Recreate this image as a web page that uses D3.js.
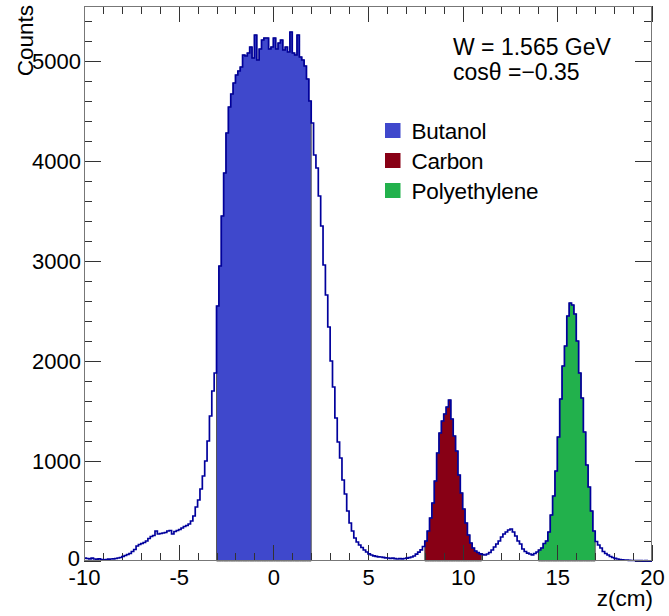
<!DOCTYPE html>
<html>
<head>
<meta charset="utf-8">
<script src="https://cdn.jsdelivr.net/npm/d3@7"></script>
<style>
  html, body { margin: 0; padding: 0; background: #ffffff; }
  svg { display: block; }
  text { font-family: "Liberation Sans", Arial, Helvetica, sans-serif; fill: #000; }
</style>
</head>
<body>
<svg id="chart" width="669" height="616"></svg>
<script>
// ---------------- data ----------------
const zMin = -10;
const zMax = 20;
const binWidth = 0.125;               // 240 bins
const counts = [
  28, 25, 22, 28, 20, 18, 22, 14,
  12, 15, 18, 20, 22, 25, 30, 35,
  45, 55, 65, 75, 95, 115, 150, 165,
  175, 185, 200, 225, 245, 255, 300, 270,
  275, 280, 285, 300, 305, 270, 295, 305,
  315, 330, 345, 355, 370, 400, 450, 540,
  610, 720, 850, 1000, 1200, 1450, 1700, 1880,
  2550, 2950, 3450, 3880, 4280, 4540, 4670, 4780,
  4860, 4900, 4940, 5060, 5050, 5080, 5140, 5030,
  5260, 5010, 5120, 5210, 5230, 5230, 5120, 5140,
  5230, 5120, 5180, 5210, 5110, 5140, 5090, 5290,
  5080, 5060, 5260, 5040, 5010, 4950, 4820, 4600,
  4380, 4060, 3930, 3650, 3350, 2960, 2660, 2340,
  2000, 1740, 1430, 1190, 1030, 810, 670, 500,
  380, 300, 230, 190, 160, 135, 110, 90,
  72, 60, 52, 46, 42, 40, 36, 32,
  30, 27, 28, 23, 20, 24, 22, 25,
  28, 34, 40, 50, 68, 88, 112, 145,
  200, 300, 430, 580, 800, 1080, 1280, 1400,
  1470, 1540, 1610, 1420, 1250, 1100, 860, 680,
  520, 380, 260, 180, 130, 100, 85, 72,
  65, 60, 70, 85, 110, 140, 170, 200,
  240, 270, 290, 310, 320, 290, 250, 200,
  170, 120, 95, 78, 70, 62, 75, 90,
  110, 130, 175, 200, 290, 460, 650, 900,
  1240, 1620, 1950, 2150, 2450, 2580, 2560, 2470,
  2200, 1880, 1630, 1290, 960, 740, 500, 300,
  195, 160, 130, 95, 75, 60, 45, 35,
  27, 20, 15, 12, 10, 8, 6, 5,
  5, 4, 3, 3, 2, 3, 2, 2
];
const regionNames  = ["Butanol", "Carbon", "Polyethylene"];
const regionStart  = [-3, 8, 14];
const regionEnd    = [2, 11, 17];
const regionColors = ["#3F48CC", "#880015", "#22B14C"];
const xMajorTicks = [-10, -5, 0, 5, 10, 15, 20];
const xTickLabels = ["-10", "-5", "0", "5", "10", "15", "20"];
const yMajorTicks = [0, 1000, 2000, 3000, 4000, 5000];
const yTickLabels = ["0", "1000", "2000", "3000", "4000", "5000"];
const yMax = 5550;
const xTitle = "z(cm)";
const yTitle = "Counts";
const infoLines = ["W = 1.565 GeV", "cosθ =−0.35"];

// ---------------- drawing ----------------
const svg = d3.select("#chart");
const W = 669, H = 616;
const pL = 84, pR = 652, pT = 6, pB = 561;

svg.append("rect").attr("width", W).attr("height", H).attr("fill", "#fff");

const x = d3.scaleLinear().domain([zMin, zMax]).range([pL, pR]);
const y = d3.scaleLinear().domain([0, yMax]).range([pB, pT]);

const bins = counts.map((c, i) => ({ x0: zMin + i * binWidth, x1: zMin + (i + 1) * binWidth, v: c }));

// filled regions
const area = d3.area()
  .curve(d3.curveStepAfter)
  .x(d => x(d[0]))
  .y0(y(0))
  .y1(d => y(d[1]));

regionNames.forEach((name, r) => {
  const sel = bins.filter(b => b.x0 >= regionStart[r] - 1e-9 && b.x1 <= regionEnd[r] + 1e-9);
  const pts = sel.map(b => [b.x0, b.v]);
  pts.push([sel[sel.length - 1].x1, sel[sel.length - 1].v]);
  svg.append("path")
    .attr("d", area(pts))
    .attr("fill", regionColors[r])
    .attr("stroke", "#555")
    .attr("stroke-width", 1);
});

// axes ticks (drawn with d3 axes)
const xMinorTicks = d3.range(zMin, zMax + 1, 1);
const yMinorTicks = d3.range(0, yMax, 200);

function styleAxis(g) {
  g.select(".domain").remove();
  g.selectAll(".tick line").attr("stroke", "#333").attr("stroke-width", 1).attr("shape-rendering", "crispEdges");
}

// bottom
svg.append("g").attr("transform", `translate(0,${pB})`)
  .call(d3.axisBottom(x).tickValues(xMinorTicks).tickSize(-8).tickFormat(""))
  .call(styleAxis);
const bx = svg.append("g").attr("transform", `translate(0,${pB})`)
  .call(d3.axisBottom(x).tickValues(xMajorTicks).tickSize(-16).tickPadding(8)
        .tickFormat((d, i) => xTickLabels[i]))
  .call(styleAxis);
bx.selectAll("text")
  .attr("font-size", 22)
  .attr("font-family", "Liberation Sans, Arial, sans-serif")
  .attr("fill", "#000")
  .attr("y", 24).attr("dy", null);

// top
svg.append("g").attr("transform", `translate(0,${pT})`)
  .call(d3.axisTop(x).tickValues(xMinorTicks).tickSize(-8).tickFormat(""))
  .call(styleAxis);
svg.append("g").attr("transform", `translate(0,${pT})`)
  .call(d3.axisTop(x).tickValues(xMajorTicks).tickSize(-16).tickFormat(""))
  .call(styleAxis);

// left
svg.append("g").attr("transform", `translate(${pL},0)`)
  .call(d3.axisLeft(y).tickValues(yMinorTicks).tickSize(-8).tickFormat(""))
  .call(styleAxis);
const ly = svg.append("g").attr("transform", `translate(${pL},0)`)
  .call(d3.axisLeft(y).tickValues(yMajorTicks).tickSize(-17).tickPadding(4)
        .tickFormat((d, i) => yTickLabels[i]))
  .call(styleAxis);
ly.selectAll("text")
  .attr("font-size", 22)
  .attr("font-family", "Liberation Sans, Arial, sans-serif")
  .attr("fill", "#000")
  .attr("x", (d, i) => i === 0 ? -4 : -3)
  .attr("dy", (d, i) => i === 0 ? "0.2em" : "0.36em");

// right
svg.append("g").attr("transform", `translate(${pR},0)`)
  .call(d3.axisRight(y).tickValues(yMinorTicks).tickSize(-8).tickFormat(""))
  .call(styleAxis);
svg.append("g").attr("transform", `translate(${pR},0)`)
  .call(d3.axisRight(y).tickValues(yMajorTicks).tickSize(-17).tickFormat(""))
  .call(styleAxis);

// histogram outline
const line = d3.line()
  .curve(d3.curveStepAfter)
  .x(d => x(d[0]))
  .y(d => y(d[1]));
const linePts = bins.map(b => [b.x0, b.v]);
linePts.push([bins[bins.length - 1].x1, bins[bins.length - 1].v]);
svg.append("path")
  .attr("d", line(linePts))
  .attr("fill", "none")
  .attr("stroke", "#00009C")
  .attr("stroke-width", 1.7)
  .attr("stroke-linejoin", "miter");

// frame
svg.append("rect")
  .attr("x", pL + 0.5).attr("y", pT + 0.5)
  .attr("width", pR - pL - 1).attr("height", pB - pT - 1)
  .attr("fill", "none")
  .attr("stroke", "#777")
  .attr("stroke-width", 1);

// axis titles
svg.append("text")
  .attr("transform", `translate(33,${pT - 1}) rotate(-90)`)
  .attr("text-anchor", "end")
  .attr("font-size", 22.5)
  .text(yTitle);
svg.append("text")
  .attr("x", pR + 1).attr("y", 606)
  .attr("text-anchor", "end")
  .attr("font-size", 22.5)
  .text(xTitle);

// info text
infoLines.forEach((t, i) => {
  svg.append("text")
    .attr("x", 453).attr("y", 55 + i * 25)
    .attr("font-size", 23)
    .text(t);
});

// legend
const legendTextLen = [75, 72, 127];
regionNames.forEach((name, i) => {
  const cy = 130.5 + i * 30;
  svg.append("rect")
    .attr("x", 385).attr("y", cy - 7.5)
    .attr("width", 15.5).attr("height", 15)
    .attr("fill", regionColors[i]);
  svg.append("text")
    .attr("x", 411.5).attr("y", cy + 8)
    .attr("font-size", 22.5)
    .attr("textLength", legendTextLen[i])
    .attr("lengthAdjust", "spacing")
    .text(name);
});
</script>
</body>
</html>
